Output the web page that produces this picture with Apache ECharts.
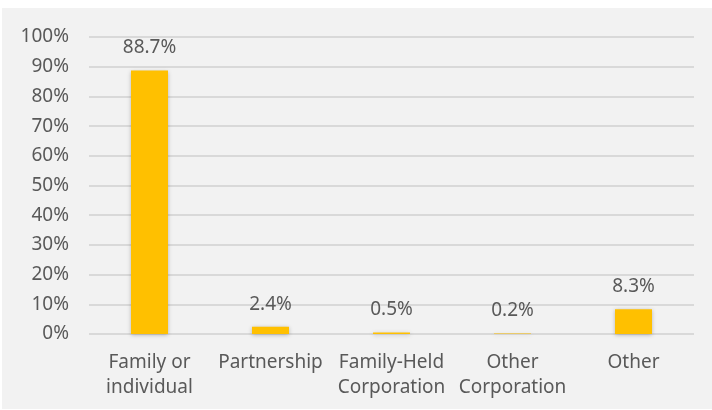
<!DOCTYPE html>
<html>
<head>
<meta charset="utf-8">
<script src="https://cdn.jsdelivr.net/npm/echarts@6/dist/echarts.min.js"></script>
<style>
  html, body { margin: 0; padding: 0; background: #fff; }
  #main { width: 712px; height: 410px; }
</style>
</head>
<body>
<div id="main"></div>
<script>
// ownership type categories and share of owners (%)
const categories = ['Family or\nindividual', 'Partnership', 'Family-Held\nCorporation', 'Other\nCorporation', 'Other'];
const shares = [88.7, 2.4, 0.5, 0.2, 8.3];

const chart = echarts.init(document.getElementById('main'), null, { renderer: 'canvas' });

const option = {
  backgroundColor: '#ffffff',
  animation: false,
  textStyle: { fontFamily: '"Noto Sans", sans-serif' },
  graphic: [{
    type: 'rect',
    z: -10,
    silent: true,
    shape: { x: 2, y: 8, width: 712, height: 401 },
    style: { fill: '#f2f2f2' }
  }],
  grid: {
    left: 89,
    right: 18,
    top: 37,
    bottom: 76
  },
  xAxis: {
    type: 'category',
    data: categories,
    axisLine: { show: false },
    axisTick: { show: false },
    axisLabel: {
      color: '#595959',
      fontSize: 19,
      lineHeight: 25,
      margin: 16,
      interval: 0
    }
  },
  yAxis: {
    type: 'value',
    min: 0,
    max: 100,
    interval: 10,
    axisLabel: {
      color: '#595959',
      fontSize: 19,
      margin: 20,
      formatter: '{value}%'
    },
    splitLine: { lineStyle: { color: '#d9d9d9', width: 2 } }
  },
  series: [{
    type: 'bar',
    data: shares,
    barWidth: 37,
    itemStyle: {
      color: '#ffc000',
      shadowColor: 'rgba(0,0,0,0.25)',
      shadowBlur: 4,
      shadowOffsetY: 1
    },
    label: {
      show: true,
      position: 'top',
      distance: 13,
      color: '#595959',
      fontSize: 19,
      formatter: p => p.value.toFixed(1) + '%'
    }
  }]
};

chart.setOption(option);
</script>
</body>
</html>
